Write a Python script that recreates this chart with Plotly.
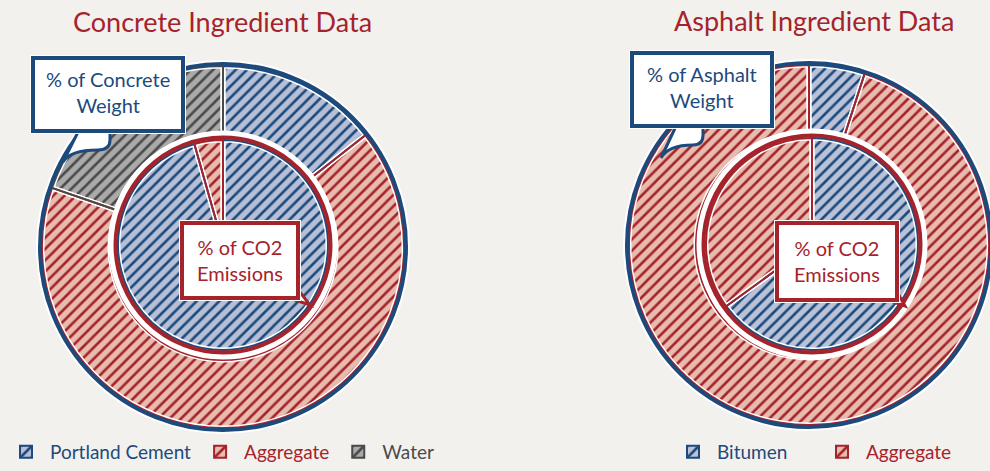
import re
import plotly.graph_objects as go

W, H = 990, 471
FONT = "Lato"

# ---------------- data ----------------
concrete_categories = ["Portland Cement", "Aggregate", "Water"]
concrete_weight_pct = [14.4, 65.9, 19.7]
concrete_co2_categories = ["Portland Cement", "Aggregate"]
concrete_co2_pct = [95.6, 4.4]

asphalt_categories = ["Bitumen", "Aggregate"]
asphalt_weight_pct = [5.0, 95.0]
asphalt_co2_pct = [65.0, 35.0]

titles = ["Concrete Ingredient Data", "Asphalt Ingredient Data"]
weight_box_texts = ["% of Concrete<br>Weight", "% of Asphalt<br>Weight"]
co2_box_text = "% of CO2<br>Emissions"

# ---------------- styles ----------------
NAVY = "#1d4a7c"
RED = "#a5232b"
DGRAY = "#4a4a4a"
BG = "#f3f1ee"
style = {
    "Portland Cement": (NAVY, "#b6bfd5"),
    "Bitumen": (NAVY, "#bac2d8"),
    "Aggregate": (RED, "#e8bbaf"),
    "Water": (DGRAY, "#aaaaaa"),
}


def lab(name, group):
    # group-specific style string keeps the legend entries of the two charts separate
    return f'<span style="color:{style[name][0]};{group}">{name}</span>'


def dom(cx, cy, r):
    return dict(x=[(cx - r) / W, min((cx + r) / W, 1.0)],
                y=[1 - (cy + r) / H, 1 - (cy - r) / H])


def add_pie(fig, cats, vals, cx, cy, r, hole, legend, group):
    fgs = [style[c][0] for c in cats]
    bgs = [style[c][1] for c in cats]
    labels = [lab(c, group) for c in cats]
    common = dict(labels=labels, values=vals, sort=False, direction="clockwise",
                  rotation=0, hole=hole, domain=dom(cx, cy, r), textinfo="none")
    fig.add_trace(go.Pie(
        **common,
        marker=dict(colors=bgs, line=dict(color=fgs, width=2),
                    pattern=dict(shape="/", fgcolor=fgs, bgcolor=bgs,
                                 size=8, solidity=0.33, fillmode="replace")),
        hoverinfo="label+percent", legend=legend, showlegend=True))
    fig.add_trace(go.Pie(
        **common,
        marker=dict(colors=["rgba(0,0,0,0)"] * len(cats),
                    line=dict(color="white", width=5)),
        hoverinfo="skip", showlegend=False, legend=legend))
    fig.add_trace(go.Pie(
        **common,
        marker=dict(colors=["rgba(0,0,0,0)"] * len(cats),
                    line=dict(color=fgs, width=2)),
        hoverinfo="skip", showlegend=False, legend=legend))


def circle(cx, cy, r, color, width):
    return dict(type="circle", xref="paper", yref="paper",
                x0=(cx - r) / W, x1=(cx + r) / W,
                y0=1 - (cy + r) / H, y1=1 - (cy - r) / H,
                line=dict(color=color, width=width),
                fillcolor="rgba(0,0,0,0)")


def rect(x0, y0, x1, y1, color, width, fill):
    return dict(type="rect", xref="paper", yref="paper",
                x0=x0 / W, x1=x1 / W, y0=1 - y1 / H, y1=1 - y0 / H,
                line=dict(color=color, width=width), fillcolor=fill)


def conv(p):
    def f(m):
        x, y = float(m.group(1)), float(m.group(2))
        return f"{x / W:.5f},{1 - y / H:.5f}"
    return re.sub(r"(-?[\d.]+),(-?[\d.]+)", f, p)


def path(p, color, width, fill="white"):
    return dict(type="path", xref="paper", yref="paper", path=conv(p),
                line=dict(color=color, width=width), fillcolor=fill)


fig = go.Figure()

# geometry (pixels)
C_OUT = (223, 247, 181)
C_IN = (223, 245, 105)
A_OUT = (809, 245, 180)
A_IN = (812, 244, 106)

add_pie(fig, concrete_categories, concrete_weight_pct, *C_OUT, 113 / 181, "legend", "")
add_pie(fig, concrete_co2_categories, concrete_co2_pct, *C_IN, 0, "legend", "")
add_pie(fig, asphalt_categories, asphalt_weight_pct, *A_OUT, 113 / 180, "legend2", "font-weight:normal")
add_pie(fig, asphalt_categories, asphalt_co2_pct, *A_IN, 0, "legend2", "font-weight:normal")

shapes = []
for (cx, cy, r), (icx, icy, ir) in [(C_OUT, C_IN), (A_OUT, A_IN)]:
    shapes.append(circle(cx, cy, r + 5, "white", 2))
    shapes.append(circle(cx, cy, r + 2, NAVY, 4))
    shapes.append(circle(icx, icy, ir + 6.5, "white", 6))
    shapes.append(circle(icx, icy, ir + 2.5, RED, 4))

# concrete weight callout
shapes.append(path("M 80,128 L 63,162 Q 70,150 98,150 Q 110,150 110,140 L 110,128 Z", NAVY, 3))
shapes.append(rect(30, 55, 186, 134, "white", 0, "white"))
shapes.append(rect(33, 58, 183, 131, NAVY, 4, "white"))
# concrete CO2 callout
shapes.append(path("M 283,296 L 310,305 L 296,287 Z", RED, 3))
shapes.append(rect(179, 220, 301, 301, "white", 0, "white"))
shapes.append(rect(182, 223, 298, 298, RED, 4, "white"))
# asphalt weight callout
shapes.append(path("M 677,124 L 661,158 Q 668,145 693,145 Q 703,145 703,135 L 703,124 Z", NAVY, 3))
shapes.append(rect(629, 50, 775, 129, "white", 0, "white"))
shapes.append(rect(632, 53, 772, 126, NAVY, 4, "white"))
# asphalt CO2 callout
shapes.append(path("M 882,298 L 905,306 L 895,288 Z", RED, 3))
shapes.append(rect(774, 220, 900, 303, "white", 0, "white"))
shapes.append(rect(777, 223, 897, 300, RED, 4, "white"))


def ann(text, x, y, color, size):
    return dict(text=text, x=x / W, y=1 - y / H, xref="paper", yref="paper",
                showarrow=False, xanchor="center", yanchor="middle",
                font=dict(family=FONT, size=size, color=color))


annotations = [
    ann(titles[0], 222, 22, RED, 27),
    ann(titles[1], 814, 21, RED, 27),
    ann(weight_box_texts[0], 108, 92, NAVY, 20),
    ann(weight_box_texts[1], 702, 87, NAVY, 20),
    ann(co2_box_text, 240, 260, RED, 20),
    ann(co2_box_text, 837, 261, RED, 20),
]

fig.update_layout(
    width=W, height=H,
    margin=dict(l=0, r=0, t=0, b=0),
    paper_bgcolor=BG, plot_bgcolor=BG,
    shapes=shapes, annotations=annotations,
    legend=dict(orientation="h", x=2 / W, xanchor="left", y=1 - 452 / H,
                yanchor="middle", font=dict(family=FONT, size=19),
                itemwidth=38, bgcolor="rgba(0,0,0,0)"),
    legend2=dict(orientation="h", x=669 / W, xanchor="left", y=1 - 452 / H,
                 yanchor="middle", font=dict(family=FONT, size=19),
                 itemwidth=38, entrywidth=96, bgcolor="rgba(0,0,0,0)"),
)

fig.write_html(
    "out.html",
    config={"displayModeBar": False},
    post_script=f"document.body.style.margin='0';document.body.style.background='{BG}';",
)
